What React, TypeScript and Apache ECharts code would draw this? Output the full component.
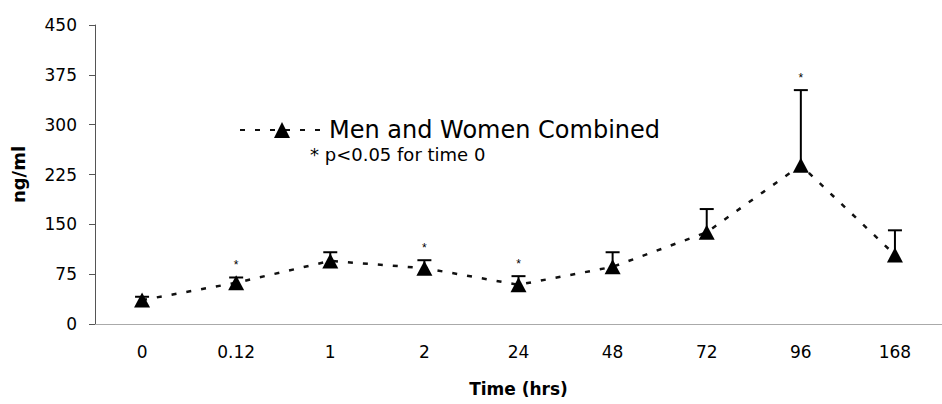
import React, { useEffect, useRef } from "react";
import * as echarts from "echarts";

const categories = ["0", "0.12", "1", "2", "24", "48", "72", "96", "168"];
const means = [36, 62, 95, 84, 59, 86, 138, 239, 104];
const upperBars = [41, 70, 108, 96, 72, 108, 173, 352, 141];
const significant = [0, 1, 0, 1, 1, 0, 0, 1, 0];
const seriesName = "Men and Women Combined";
const noteText = "* p<0.05 for time 0";
const yMin = 0;
const yMax = 450;
const yInterval = 75;

export default function App() {
  const ref = useRef<HTMLDivElement>(null);
  useEffect(() => {
    if (!ref.current) return;
    document.body.style.margin = "0";
    const chart = echarts.init(ref.current, null, { renderer: "svg" });
    const errData = categories.map((_, i) => [i, means[i], upperBars[i], significant[i]]);
    chart.setOption({
      animation: false,
      textStyle: { fontFamily: "DejaVu Sans", color: "#000" },
      grid: { left: 95, top: 25, width: 864, height: 299 },
      legend: {
        data: [seriesName],
        left: 239,
        top: 118,
        padding: 0,
        itemWidth: 84,
        itemHeight: 20,
        itemGap: 0,
        textStyle: { fontSize: 24, color: "#000", fontFamily: "DejaVu Sans" },
      },
      graphic: [
        {
          type: "text",
          left: 310,
          top: 145,
          style: { text: noteText, fontSize: 18, fill: "#000", fontFamily: "DejaVu Sans" },
        },
      ],
      xAxis: {
        type: "category",
        data: categories,
        boundaryGap: true,
        axisLine: { lineStyle: { color: "#aaa", width: 1 } },
        axisTick: { show: false },
        axisLabel: { fontSize: 17, color: "#000", margin: 19, fontFamily: "DejaVu Sans" },
        name: "Time (hrs)",
        nameLocation: "middle",
        nameGap: 56,
        nameTextStyle: { fontSize: 17, fontWeight: "bold", color: "#000", fontFamily: "DejaVu Sans" },
      },
      yAxis: {
        type: "value",
        min: yMin,
        max: yMax,
        interval: yInterval,
        splitLine: { show: false },
        axisLine: { show: true, lineStyle: { color: "#555", width: 1 } },
        axisTick: { show: true, length: 6, lineStyle: { color: "#555" } },
        axisLabel: { fontSize: 17, color: "#000", margin: 18, fontFamily: "DejaVu Sans" },
        name: "ng/ml",
        nameLocation: "middle",
        nameGap: 68,
        nameRotate: 90,
        nameTextStyle: { fontSize: 18, fontWeight: "bold", color: "#000", fontFamily: "DejaVu Sans" },
      },
      series: [
        {
          type: "custom",
          z: 2,
          data: errData,
          encode: { x: 0, y: [1, 2] },
          renderItem: (params: any, api: any) => {
            const idx = api.value(0);
            const p0 = api.coord([idx, api.value(1)]);
            const p1 = api.coord([idx, api.value(2)]);
            const children: any[] = [
              {
                type: "line",
                shape: { x1: p0[0], y1: p0[1], x2: p1[0], y2: p1[1] },
                style: { stroke: "#000", lineWidth: 2 },
              },
              {
                type: "line",
                shape: { x1: p1[0] - 7, y1: p1[1], x2: p1[0] + 7, y2: p1[1] },
                style: { stroke: "#000", lineWidth: 2 },
              },
            ];
            if (api.value(3)) {
              children.push({
                type: "text",
                x: p1[0],
                y: p1[1] - 12,
                style: { text: "*", fontSize: 12, align: "center", verticalAlign: "middle", fill: "#000" },
              });
            }
            return { type: "group", children };
          },
        },
        {
          name: seriesName,
          type: "line",
          z: 3,
          data: means,
          symbol: "triangle",
          symbolSize: [16, 15],
          itemStyle: { color: "#000" },
          lineStyle: { type: [5, 10], width: 2.5, color: "#111" },
        },
      ],
    });
    return () => chart.dispose();
  }, []);
  return <div ref={ref} style={{ width: 942, height: 404 }} />;
}
